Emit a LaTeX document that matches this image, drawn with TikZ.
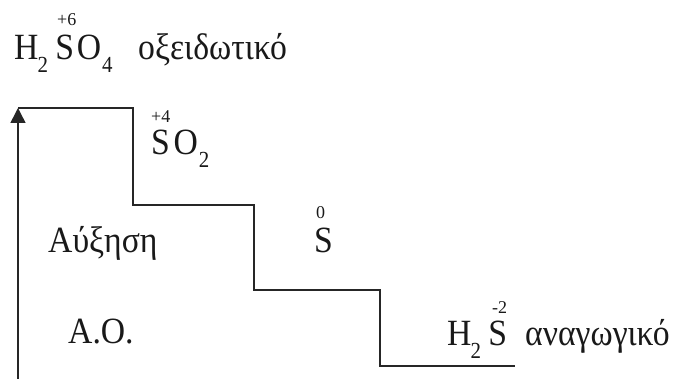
\documentclass[tikz,border=0pt]{standalone}
\usepackage{fontspec}
\usepackage{graphicx}
\setmainfont{Liberation Serif}
\usetikzlibrary{arrows.meta}
\newcommand{\chsub}[1]{\raisebox{-13pt}{\fontsize{23}{23}\selectfont #1}}
\newcommand{\hx}[1]{\scalebox{0.91}[1]{#1}}
\tikzset{
  txt/.style={anchor=base west, inner sep=0pt, font=\fontsize{37}{40}\selectfont, text=black!90},
  ox/.style={anchor=base west, inner sep=0pt, text=black!90},
  stair/.style={line width=1.5pt, draw=black!85},
}
\begin{document}
\begin{tikzpicture}[x=1pt,y=-1pt]
\useasboundingbox (0,0) rectangle (685,379);
% staircase
\coordinate (a0) at (18,379);
\coordinate (a1) at (18,108);
\coordinate (b1) at (133,108);
\coordinate (b2) at (133,205);
\coordinate (c1) at (254,205);
\coordinate (c2) at (254,290);
\coordinate (d1) at (380,290);
\coordinate (d2) at (380,366);
\coordinate (e1) at (515,366);
\draw[stair] (a1) -- (b1) -- (b2) -- (c1) -- (c2) -- (d1) -- (d2) -- (e1);
\draw[stair, -{Triangle[length=15pt,width=15pt]}] (a0) -- (a1);
% H2SO4
\node[txt] (h2so4) at (14,60) {\hx{H\kern-1pt\chsub{2}\kern8pt S\kern3pt O\kern1pt\chsub{4}}};
\node[ox] (ox6) at (57,26) {\fontsize{18}{20}\selectfont +6};
\node[txt] (oxid) at (138,60) {\hx{οξειδωτικό}};
% SO2
\node[txt] (so2) at (151,155) {\hx{S\kern4pt O\kern1pt\chsub{2}}};
\node[ox] (ox4) at (151,123) {\fontsize{18}{20}\selectfont +4};
% S
\node[txt] (s0) at (314,253) {\hx{S}};
\node[ox] (ox0) at (316,219) {\fontsize{18}{20}\selectfont 0};
% H2S
\node[txt] (h2s) at (447,345) {\hx{H\kern-1pt\chsub{2}\kern8pt S}};
\node[ox] (oxm2) at (492,313) {\fontsize{18}{20}\selectfont -2};
\node[txt] (anag) at (525,345) {\hx{αναγωγικό}};
% labels
\node[txt] (afx) at (48,253) {\hx{Αύξηση}};
\node[txt] (ao) at (68,343) {\hx{Α.Ο.}};
\end{tikzpicture}
\end{document}
